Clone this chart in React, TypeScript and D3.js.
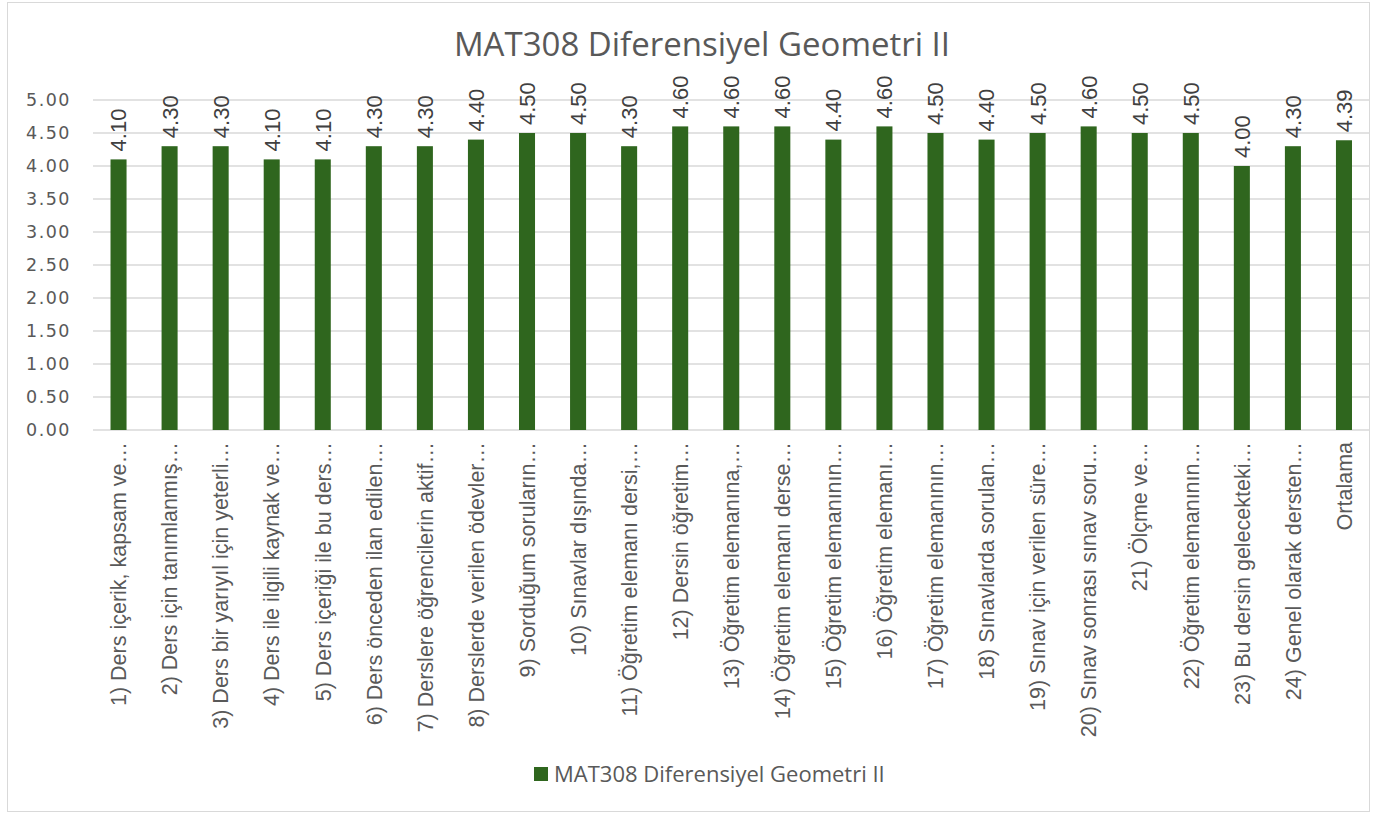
import React from "react";
import * as d3 from "d3";

const categories: string[] = [
  "1) Ders içerik, kapsam ve…",
  "2) Ders için tanımlanmış…",
  "3) Ders bir yarıyıl için yeterli…",
  "4) Ders ile ilgili kaynak ve…",
  "5) Ders içeriği ile bu ders…",
  "6) Ders önceden ilan edilen…",
  "7) Derslere öğrencilerin aktif…",
  "8) Derslerde verilen ödevler…",
  "9) Sorduğum soruların…",
  "10) Sınavlar dışında…",
  "11)  Öğretim elemanı dersi,…",
  "12) Dersin öğretim…",
  "13) Öğretim elemanına,…",
  "14) Öğretim elemanı derse…",
  "15) Öğretim elemanının…",
  "16) Öğretim elemanı…",
  "17) Öğretim elemanının…",
  "18) Sınavlarda sorulan…",
  "19) Sınav için verilen süre…",
  "20) Sınav sonrası sınav soru…",
  "21) Ölçme ve…",
  "22)  Öğretim elemanının…",
  "23) Bu dersin gelecekteki…",
  "24) Genel olarak dersten…",
  "Ortalama",
];

const values: number[] = [
  4.1, 4.3, 4.3, 4.1, 4.1, 4.3, 4.3, 4.4, 4.5, 4.5, 4.3, 4.6, 4.6, 4.6, 4.4,
  4.6, 4.5, 4.4, 4.5, 4.6, 4.5, 4.5, 4.0, 4.3, 4.39,
];

const yTicks: number[] = [0, 0.5, 1, 1.5, 2, 2.5, 3, 3.5, 4, 4.5, 5];

const seriesName = "MAT308 Diferensiyel Geometri II";
const title = "MAT308 Diferensiyel Geometri II";

export default function App() {
  const W = 1377;
  const H = 814;
  const left = 93;
  const right = 1369.5;
  const top = 100;
  const bottom = 430;
  const barColor = "#2f661e";
  const textColor = "#595959";
  const gridColor = "#d9d9d9";
  const font = "'Liberation Sans', Arial, sans-serif";
  const tickFont = "'DejaVu Sans', 'Liberation Sans', sans-serif";
  const titleFont = "'Open Sans', 'Liberation Sans', sans-serif";

  const x = d3
    .scaleBand<string>()
    .domain(categories)
    .range([left, right])
    .paddingInner(0.686)
    .paddingOuter(0.343);
  const y = d3.scaleLinear().domain([0, 5]).range([bottom, top]);

  return (
    <svg
      width={W}
      height={H}
      style={{ position: "absolute", left: 0, top: 0, background: "#fff" }}
    >
      <rect x={7.5} y={2.5} width={1362} height={809} fill="#fff" stroke={gridColor} strokeWidth={1} />
      <text
        x={702}
        y={56}
        textAnchor="middle"
        fontFamily={titleFont}
        fontSize={33}
        fill={textColor}
      >
        {title}
      </text>
      {yTicks.map((t) => (
        <g key={t}>
          <line x1={left} x2={right} y1={y(t)} y2={y(t)} stroke={gridColor} strokeWidth={1.5} />
          <text
            x={71}
            y={y(t)}
            dy="0.36em"
            textAnchor="end"
            fontFamily={tickFont}
            fontSize={17.5}
            letterSpacing={1.5}
            fill={textColor}
          >
            {t.toFixed(2)}
          </text>
        </g>
      ))}
      {categories.map((c, i) => {
        const bx = x(c)!;
        const bw = x.bandwidth();
        const cx = bx + bw / 2;
        return (
          <g key={c}>
            <rect x={bx} y={y(values[i])} width={bw} height={y(0) - y(values[i])} fill={barColor} />
            <text
              transform={`translate(${cx},${y(values[i]) - 8}) rotate(-90)`}
              dy="0.36em"
              textAnchor="start"
              fontFamily={font}
              fontSize={22}
              fill="#404040"
            >
              {values[i].toFixed(2)}
            </text>
            <text
              transform={`translate(${cx},${bottom + 12}) rotate(-90)`}
              dy="0.36em"
              textAnchor="end"
              fontFamily={font}
              fontSize={21.5}
              fill={textColor}
            >
              {c}
            </text>
          </g>
        );
      })}
      <rect x={534} y={767} width={14} height={14} fill={barColor} />
      <text x={554} y={774} dy="0.36em" fontFamily={titleFont} fontSize={22} fill={textColor}>
        {seriesName}
      </text>
    </svg>
  );
}
